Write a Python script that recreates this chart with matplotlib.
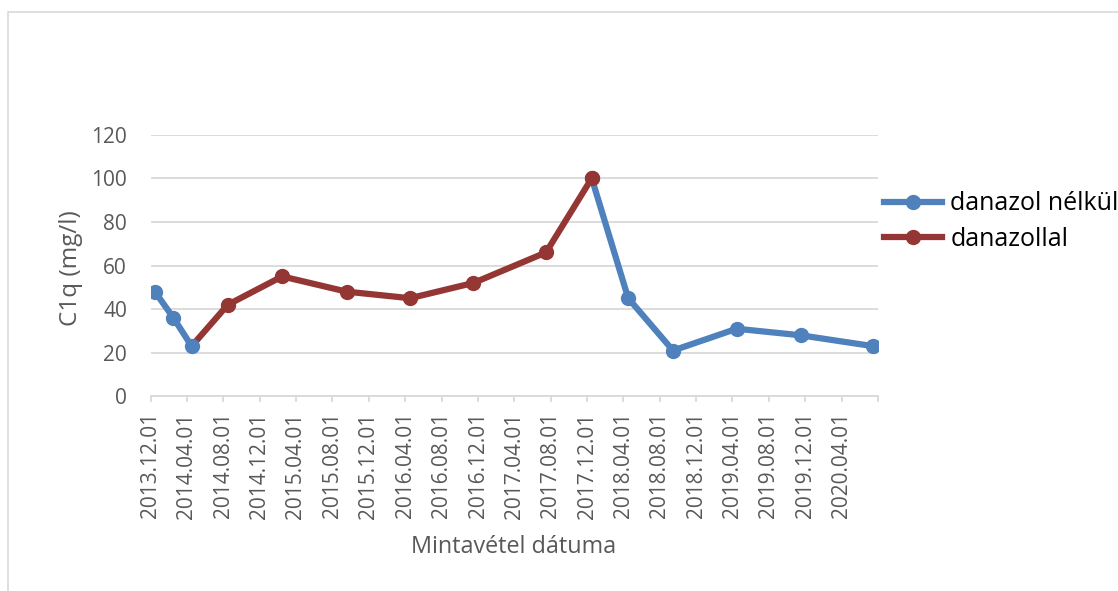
import matplotlib
matplotlib.use("Agg")
import matplotlib.pyplot as plt
from matplotlib.lines import Line2D
from matplotlib.patches import Rectangle
import numpy as np
import pandas as pd

# mintavetel datumai es C1q ertekek (mg/l)
datumok = ["2013-12-15", "2014-02-15", "2014-04-17", "2014-08-16", "2015-02-14",
           "2015-09-18", "2016-04-17", "2016-11-15", "2017-07-16", "2017-12-16",
           "2018-04-17", "2018-09-14", "2019-04-15", "2019-11-15", "2020-07-15"]
nelkul = [48, 36, 23, None, None, None, None, None, None, 100, 45, 21, 31, 28, 23]
danazollal = [None, None, 23, 42, 55, 48, 45, 52, 66, 100, None, None, None, None, None]

tengely_eleje = "2013-12-01"
tengely_vege = "2020-08-01"
y_ticks = [0, 20, 40, 60, 80, 100, 120]

kek = "#4F81BD"
piros = "#943634"
szurke = "#595959"
racs = "#D9D9D9"

plt.rcParams["font.family"] = ["Open Sans", "DejaVu Sans"]

x = pd.to_datetime(datumok)
y1 = np.array([np.nan if v is None else v for v in nelkul], dtype=float)
y2 = np.array([np.nan if v is None else v for v in danazollal], dtype=float)

fig = plt.figure(figsize=(11.18, 5.91), dpi=100)
ax = fig.add_axes([0.1348, 0.3294, 0.6508, 0.4427])

# keret
fig.patches.append(Rectangle((8 / 1118, -0.1), 1.2, 1 - 12 / 591 + 0.1,
                             transform=fig.transFigure, fill=False,
                             edgecolor=racs, lw=1.2))

# vonalak
ax.plot(x, y2, color=piros, lw=4.5, zorder=3, solid_capstyle="round")
ax.plot(x, y1, color=kek, lw=4.5, zorder=3, solid_capstyle="round")
ax.plot(x, y1, ls="none", marker="o", ms=10, color=kek, zorder=4)
# a piros sorozat elso pontjan nincs jelolo
elso = int(np.where(~np.isnan(y2))[0][0])
maszk = ~np.isnan(y2)
maszk[elso] = False
ax.plot(x[maszk], y2[maszk], ls="none", marker="o", ms=10, color=piros, zorder=5)

ax.set_ylim(0, 120)
ax.set_yticks(y_ticks)
ax.yaxis.grid(True, color=racs, lw=1.3)
ax.set_axisbelow(True)

t0 = pd.Timestamp(tengely_eleje)
t1 = pd.Timestamp(tengely_vege)
ax.set_xlim(t0, t1)
tick_datumok = pd.date_range(t0, t1, freq="4MS")
ax.set_xticks(tick_datumok)
cimkek = [d.strftime("%Y.%m.%d") for d in tick_datumok]
cimkek[-1] = ""
ax.set_xticklabels(cimkek, rotation=90, va="top", ha="center")

for s in ["top", "right", "left"]:
    ax.spines[s].set_visible(False)
ax.spines["bottom"].set_color(racs)
ax.spines["bottom"].set_linewidth(1.3)

ax.tick_params(axis="x", direction="out", length=4.5, width=1.3, color=racs,
               labelsize=15, labelcolor=szurke, pad=7)
ax.tick_params(axis="y", length=0, labelsize=15, labelcolor=szurke, pad=17)

fig.text(514 / 1118, 1 - 547 / 591, "Mintavétel dátuma", ha="center", va="center",
         fontsize=16.8, color=szurke)
fig.text(71 / 1118, 1 - 268 / 591, "C1q (mg/l)", ha="center", va="center",
         rotation=90, fontsize=17.5, color=szurke)

kezek = [Line2D([], [], color=kek, lw=4.5, marker="o", ms=10),
         Line2D([], [], color=piros, lw=4.5, marker="o", ms=10)]
ax.legend(kezek, ["danazol nélkül", "danazollal"], loc="center left",
          bbox_to_anchor=(884 / 1118, 1 - 221.7 / 591), bbox_transform=fig.transFigure,
          frameon=False, borderpad=0, borderaxespad=0, handlelength=2.3,
          handletextpad=0.35, labelspacing=0.42, fontsize=18, labelcolor="black")

fig.savefig("out.png", dpi=100)
